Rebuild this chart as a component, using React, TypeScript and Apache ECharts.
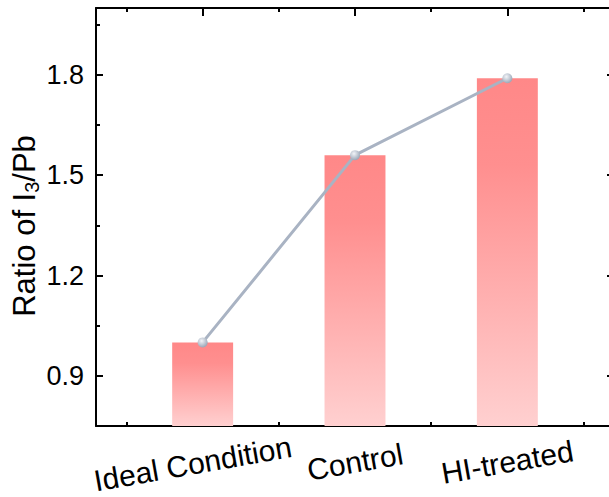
import React, { useEffect, useRef } from "react";
import * as echarts from "echarts";

const CATEGORIES = ["Ideal Condition", "Control", "HI-treated"];
const RATIO_VALUES = [1.0, 1.56, 1.79];
const Y_MAJOR_TICKS = [0.9, 1.2, 1.5, 1.8];
const Y_MINOR_TICKS = [1.05, 1.35, 1.65, 1.95];
const X_MAJOR_TICKS = [1, 2, 3];
const X_MINOR_TICKS = [0.5, 1.5, 2.5, 3.5];
const Y_MIN = 0.75;
const Y_MAX = 2.0;
const X_MIN = 0.3;
const X_MAX = 3.7;
const BAR_WIDTH_UNITS = 0.4;

const FONT = "'Liberation Sans', Arial, sans-serif";

export default function App() {
  const ref = useRef<HTMLDivElement>(null);
  useEffect(() => {
    if (!ref.current) return;
    const chart = echarts.init(ref.current, undefined, { renderer: "svg" });
    const points = CATEGORIES.map((_, i) => [i + 1, RATIO_VALUES[i]]);

    const xBase = (pos: string, ticks: number[], len: number, main: boolean) => ({
      type: "value",
      position: pos,
      min: X_MIN,
      max: X_MAX,
      axisLine: { show: main, lineStyle: { color: "#000", width: 2 } },
      axisTick: { show: true, inside: true, length: len, customValues: ticks, lineStyle: { color: "#000", width: 2 } },
      axisLabel: { show: false },
      splitLine: { show: false },
    });
    const yBase = (pos: string, ticks: number[], len: number, main: boolean) => ({
      type: "value",
      position: pos,
      min: Y_MIN,
      max: Y_MAX,
      axisLine: { show: main, lineStyle: { color: "#000", width: 2 } },
      axisTick: { show: true, inside: true, length: len, customValues: ticks, lineStyle: { color: "#000", width: 2 } },
      axisLabel: { show: false },
      splitLine: { show: false },
    });

    const xMain: any = xBase("bottom", X_MAJOR_TICKS, 8, true);
    xMain.axisLabel = {
      show: true,
      customValues: X_MAJOR_TICKS,
      formatter: (v: number) => {
        const i = Math.round(v) - 1;
        const name = CATEGORIES[i] || "";
        return i === 0 ? "{w|" + name + "}" : name;
      },
      rotate: 10,
      align: "center",
      verticalAlign: "middle",
      margin: 36,
      fontSize: 30,
      fontFamily: FONT,
      color: "#000",
      rich: {
        w: { fontSize: 30, fontFamily: FONT, color: "#000", padding: [0, 20, 0, 0] },
      },
    };
    const yMain: any = yBase("left", Y_MAJOR_TICKS, 7, true);
    yMain.axisLabel = {
      show: true,
      customValues: Y_MAJOR_TICKS,
      formatter: (v: number) => v.toFixed(1),
      margin: 12,
      fontSize: 27,
      fontFamily: FONT,
      color: "#000",
    };
    yMain.name = "{a|Ratio of I}{s|3}{a|/Pb}";
    yMain.nameLocation = "middle";
    yMain.nameRotate = 90;
    yMain.nameGap = 54;
    yMain.nameMoveOverlap = false;
    yMain.nameTextStyle = {
      padding: [0, 18, 0, 0],
      rich: {
        a: { fontSize: 31, fontFamily: FONT, color: "#000", lineHeight: 36 },
        s: { fontSize: 20, fontFamily: FONT, color: "#000", verticalAlign: "bottom", lineHeight: 36, padding: [14, 0, 0, 0] },
      },
    };

    chart.setOption({
      animation: false,
      backgroundColor: "#fff",
      grid: { left: 96, top: 8, right: 6, bottom: 71, outerBoundsMode: "none" },
      xAxis: [
        xMain,
        xBase("bottom", X_MINOR_TICKS, 4, false),
        xBase("top", X_MAJOR_TICKS, 8, true),
        xBase("top", X_MINOR_TICKS, 4, false),
      ],
      yAxis: [
        yMain,
        yBase("left", Y_MINOR_TICKS, 4, false),
        yBase("right", Y_MAJOR_TICKS, 7, true),
        yBase("right", Y_MINOR_TICKS, 4, false),
      ],
      series: [
        {
          type: "custom",
          xAxisIndex: 0,
          yAxisIndex: 0,
          data: points,
          z: 2,
          renderItem: (params: any, api: any) => {
            const x = api.value(0);
            const v = api.value(1);
            const top = api.coord([x, v]);
            const base = api.coord([x, Y_MIN]);
            const w = api.size([BAR_WIDTH_UNITS, 0])[0];
            return {
              type: "rect",
              shape: { x: top[0] - w / 2, y: top[1], width: w, height: base[1] - top[1] },
              style: {
                fill: new echarts.graphic.LinearGradient(0, 0, 0, 1, [
                  { offset: 0, color: "#ff8888" },
                  { offset: 0.25, color: "#ff8f8f" },
                  { offset: 1, color: "#ffd0d0" },
                ]),
              },
            };
          },
        },
        {
          type: "line",
          xAxisIndex: 0,
          yAxisIndex: 0,
          data: points,
          z: 5,
          lineStyle: { color: "#a9b3c3", width: 3 },
          symbol: "circle",
          symbolSize: 10,
          itemStyle: {
            color: new echarts.graphic.RadialGradient(0.4, 0.35, 0.65, [
              { offset: 0, color: "#f2f4f8" },
              { offset: 1, color: "#9ca8b8" },
            ]),
            borderWidth: 0,
          },
        },
      ],
    });
    return () => chart.dispose();
  }, []);
  return (
    <div style={{ position: "absolute", left: 0, top: 0, width: 609, height: 497, overflow: "hidden" }}>
      <div ref={ref} style={{ width: 620, height: 497 }} />
    </div>
  );
}
